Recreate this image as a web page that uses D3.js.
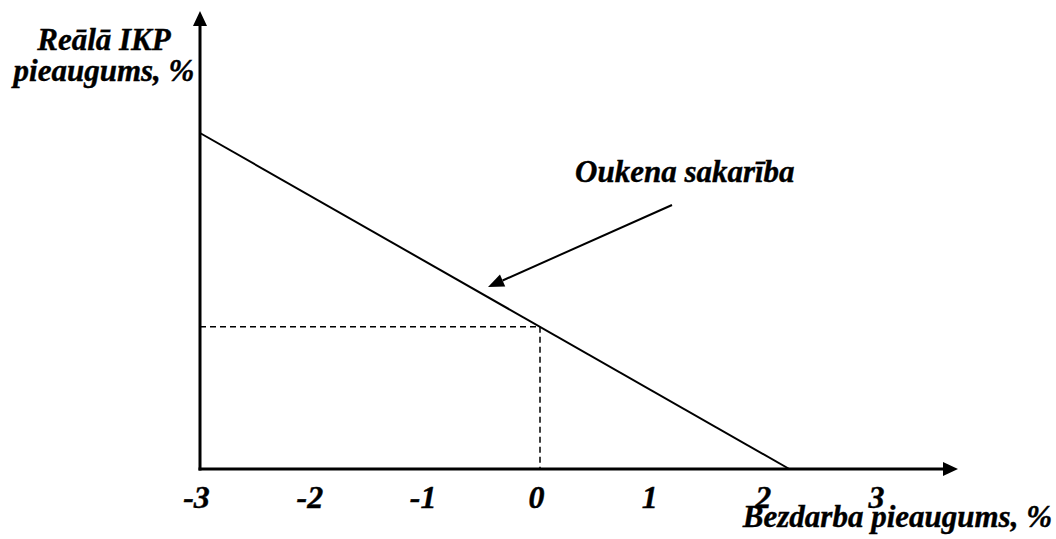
<!DOCTYPE html>
<html>
<head>
<meta charset="utf-8">
<script src="https://cdn.jsdelivr.net/npm/d3@7"></script>
<style>
  body { margin: 0; background: #fff; }
</style>
</head>
<body>
<div id="chart-area"></div>
<script>
// DATA
const xTicks = [-3, -2, -1, 0, 1, 2, 3]
const okunX = [-3, 2.2]
const okunY = [5.2, 0]
const refPoint = [0, 2.2]
const yTitle = ["Reālā IKP", "pieaugums, %"]
const xTitle = "Bezdarba pieaugums, %"
const lineLabel = "Oukena sakarība"

const WIDTH = 1056
const HEIGHT = 539

const svg = d3.select("#chart-area").append("svg")
  .attr("width", WIDTH)
  .attr("height", HEIGHT)

// SCALES
const x = d3.scaleLinear()
  .domain([-3, 0])
  .range([200, 540])
const y = d3.scaleLinear()
  .domain([0, 5.2])
  .range([469, 133])

const axisTop = 11
const axisRight = 958

function serifText(sel, size) {
  sel.attr("font-family", "Liberation Serif")
    .attr("font-weight", "bold")
    .attr("font-style", "italic")
    .attr("font-size", size)
    .attr("fill", "#000")
    .attr("stroke", "#000")
    .attr("stroke-width", 0.4)
}

// AXES (lines with arrow tips)
svg.append("line")
  .attr("x1", x(-3)).attr("y1", y(0) + 1.5)
  .attr("x2", x(-3)).attr("y2", axisTop + 10)
  .attr("stroke", "#000").attr("stroke-width", 3)
svg.append("path")
  .attr("d", `M${x(-3)},${axisTop} L${x(-3) - 7},${axisTop + 15} L${x(-3) + 7},${axisTop + 15} Z`)
  .attr("fill", "#000")

svg.append("line")
  .attr("x1", x(-3) - 1.5).attr("y1", y(0))
  .attr("x2", axisRight - 10).attr("y2", y(0))
  .attr("stroke", "#000").attr("stroke-width", 3)
svg.append("path")
  .attr("d", `M${axisRight},${y(0)} L${axisRight - 15},${y(0) - 7} L${axisRight - 15},${y(0) + 7} Z`)
  .attr("fill", "#000")

// tick labels
const xAxisCall = d3.axisBottom(x)
  .tickValues(xTicks)
  .tickSize(0)
  .tickFormat(d3.format("d"))
const xAxisG = svg.append("g")
  .attr("transform", `translate(0, ${y(0)})`)
  .call(xAxisCall)
  .call(serifText, 32)
xAxisG.select(".domain").remove()
xAxisG.selectAll("text")
  .attr("dy", null)
  .attr("y", 39)
  .attr("dx", -4)
  .text(d => d < 0 ? "-" + Math.abs(d) : d)

// dashed guides
svg.append("path")
  .attr("d", `M${x(-3)},${y(refPoint[1])} H${x(refPoint[0])} V${y(0)}`)
  .attr("fill", "none")
  .attr("stroke", "#000")
  .attr("stroke-width", 1.5)
  .attr("stroke-dasharray", "6,4")

// Okun line
const line = d3.line()
  .x(d => x(d[0]))
  .y(d => y(d[1]))
svg.append("path")
  .datum(d3.zip(okunX, okunY))
  .attr("d", line)
  .attr("fill", "none")
  .attr("stroke", "#000")
  .attr("stroke-width", 2)

// annotation arrow
const tip = [488, 287]
const tail = [672, 205]
const ang = Math.atan2(tip[1] - tail[1], tip[0] - tail[0])
const hl = 16, hw = 6.5
const bx = tip[0] - hl * Math.cos(ang), by = tip[1] - hl * Math.sin(ang)
svg.append("line")
  .attr("x1", tail[0]).attr("y1", tail[1])
  .attr("x2", bx).attr("y2", by)
  .attr("stroke", "#000").attr("stroke-width", 2)
svg.append("path")
  .attr("d", `M${tip[0]},${tip[1]} L${bx + hw * Math.sin(ang)},${by - hw * Math.cos(ang)} L${bx - hw * Math.sin(ang)},${by + hw * Math.cos(ang)} Z`)
  .attr("fill", "#000")

// LABELS
svg.append("text")
  .attr("x", 104)
  .attr("y", 50)
  .attr("text-anchor", "middle")
  .call(serifText, 31)
  .selectAll("tspan")
  .data(yTitle)
  .join("tspan")
    .attr("x", 104)
    .attr("dy", (d, i) => i ? 31 : 0)
    .text(d => d)

svg.append("text")
  .attr("x", 1052)
  .attr("y", 527)
  .attr("text-anchor", "end")
  .call(serifText, 31)
  .text(xTitle)

svg.append("text")
  .attr("x", 575)
  .attr("y", 182)
  .call(serifText, 31)
  .text(lineLabel)
</script>
</body>
</html>
